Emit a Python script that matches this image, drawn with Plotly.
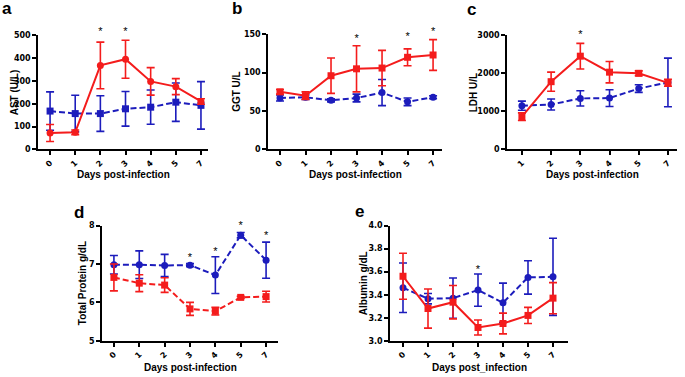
import plotly.graph_objects as go

# ---------------- data ----------------
days_7 = ["0", "1", "2", "3", "4", "5", "7"]
days_c = ["1", "2", "3", "4", "5", "7"]

# a: AST (U/L)
ast_inf = [72, 75, 368, 395, 298, 275, 210]
ast_inf_err = [37, 10, 102, 83, 60, 35, 12]
ast_ctl = [168, 157, 157, 178, 185, 207, 193]
ast_ctl_err = [84, 80, 78, 76, 75, 84, 104]
ast_star_days = ["2", "3"]
ast_star_y = [515, 515]

# b: GGT U/L
ggt_inf = [75, 70, 96, 105, 106, 120, 123]
ggt_inf_err = [3, 5, 23, 30, 23, 11, 20]
ggt_ctl = [67, 68, 64, 67, 74, 62, 68]
ggt_ctl_err = [4, 3, 2, 5, 17, 5, 2]
ggt_star_days = ["3", "5", "7"]
ggt_star_y = [144, 146, 152]

# c: LDH U/L
ldh_inf = [860, 1780, 2450, 2030, 2000, 1750]
ldh_inf_err = [100, 250, 335, 280, 65, 90]
ldh_ctl = [1150, 1180, 1340, 1350, 1600, 1760]
ldh_ctl_err = [120, 145, 200, 220, 100, 640]
ldh_star_days = ["3"]
ldh_star_y = [3010]

# d: Total Protein g/dL
tp_ctl = [6.98, 6.98, 6.96, 6.97, 6.71, 7.75, 7.10]
tp_ctl_err = [0.24, 0.36, 0.29, 0.04, 0.48, 0.07, 0.47]
tp_inf = [6.65, 6.50, 6.45, 5.83, 5.77, 6.13, 6.15]
tp_inf_err = [0.35, 0.22, 0.19, 0.17, 0.10, 0.03, 0.14]
tp_star_days = ["3", "4", "5", "7"]
tp_star_y = [7.15, 7.30, 7.99, 7.72]

# e: Albumin g/dL
alb_ctl = [3.46, 3.365, 3.37, 3.44, 3.33, 3.55, 3.555]
alb_ctl_err = [0.215, 0.045, 0.175, 0.14, 0.17, 0.145, 0.335]
alb_inf = [3.56, 3.28, 3.335, 3.115, 3.15, 3.22, 3.37]
alb_inf_err = [0.2, 0.17, 0.145, 0.065, 0.09, 0.07, 0.135]
alb_star_days = ["3"]
alb_star_y = [3.61]

# ---------------- style ----------------
RED = "#f41c1c"
BLUE = "#1c1cbc"
W, H = 685, 377
FONT = "Liberation Sans, Arial, sans-serif"
TICKFONT = "DejaVu Sans, Verdana, sans-serif"
EXT = 26  # extra pixels above each plot for significance marks


def px_x(p):
    return p / W


def px_y(p):
    return 1 - p / H


panels = [
    dict(label="a", days=days_7, inf=ast_inf, inf_err=ast_inf_err, ctl=ast_ctl, ctl_err=ast_ctl_err,
         inf_sym="circle", ctl_sym="square", inf_dash="solid", ctl_dash="6px,3px",
         stars=(ast_star_days, ast_star_y), ytitle="AST (U/L)", xtitle="Days post-infection",
         xpx=(38, 208), ypx=(32, 149), xr=[-0.48, 6.28], yr=[0, 500], dtick=100, fmt="",
         lab=(0, 5), ytx=14, xty=175),
    dict(label="b", days=days_7, inf=ggt_inf, inf_err=ggt_inf_err, ctl=ggt_ctl, ctl_err=ggt_ctl_err,
         inf_sym="square", ctl_sym="circle", inf_dash="solid", ctl_dash="6px,3px",
         stars=(ggt_star_days, ggt_star_y), ytitle="GGT U/L", xtitle="Days post-infection",
         xpx=(268, 442), ypx=(31, 149), xr=[-0.47, 6.35], yr=[0, 150], dtick=50, fmt="",
         lab=(230, 5), ytx=237, xty=175),
    dict(label="c", days=days_c, inf=ldh_inf, inf_err=ldh_inf_err, ctl=ldh_ctl, ctl_err=ldh_ctl_err,
         inf_sym="square", ctl_sym="circle", inf_dash="solid", ctl_dash="6px,3px",
         stars=(ldh_star_days, ldh_star_y), ytitle="LDH U/L", xtitle="Days post-infection",
         xpx=(507, 677), ypx=(32, 149), xr=[-0.51, 5.31], yr=[0, 3000], dtick=1000, fmt="",
         lab=(465, 6), ytx=473, xty=175),
    dict(label="d", days=days_7, inf=tp_inf, inf_err=tp_inf_err, ctl=tp_ctl, ctl_err=tp_ctl_err,
         inf_sym="square", ctl_sym="circle", inf_dash="6px,3px", ctl_dash="6px,3px",
         stars=(tp_star_days, tp_star_y), ytitle="Total Protein g/dL", xtitle="Days post-infection",
         xpx=(102, 278), ypx=(227, 345), xr=[-0.47, 6.47], yr=[5, 8], dtick=1, fmt="",
         lab=(72, 214), ytx=82, xty=372),
    dict(label="e", days=days_7, inf=alb_inf, inf_err=alb_inf_err, ctl=alb_ctl, ctl_err=alb_ctl_err,
         inf_sym="square", ctl_sym="circle", inf_dash="solid", ctl_dash="6px,3px",
         stars=(alb_star_days, alb_star_y), ytitle="Albumin g/dL", xtitle="Days post_infection",
         xpx=(390, 568), ypx=(227, 345), xr=[-0.52, 6.6], yr=[3.0, 4.0], dtick=0.2, fmt=".1f",
         lab=(353, 213), ytx=363, xty=372),
]

fig = go.Figure()
annotations = []
layout = {}
npan = len(panels)

for i, p in enumerate(panels):
    n = "" if i == 0 else str(i + 1)
    xa, ya = "x" + n, "y" + n
    ys = "y" + str(npan + i + 1)  # hidden axis for significance marks
    x0, x1 = p["xpx"]
    yt, yb = p["ypx"]
    for vals, errs, color, sym, dash in [
        (p["ctl"], p["ctl_err"], BLUE, p["ctl_sym"], p["ctl_dash"]),
        (p["inf"], p["inf_err"], RED, p["inf_sym"], p["inf_dash"]),
    ]:
        fig.add_trace(go.Scatter(
            x=p["days"], y=vals, xaxis=xa, yaxis=ya, mode="lines+markers",
            line=dict(color=color, width=2, dash=dash),
            marker=dict(symbol=sym, size=7, color=color),
            error_y=dict(type="data", array=errs, visible=True, color=color, thickness=1.6, width=4),
            showlegend=False, cliponaxis=False,
        ))
    sd, sy = p["stars"]
    fig.add_trace(go.Scatter(
        x=sd, y=sy, xaxis=xa, yaxis=ys, mode="text", text=["*"] * len(sd),
        textposition="middle center", textfont=dict(family=FONT, size=11, color="#000000"),
        showlegend=False, cliponaxis=False, hoverinfo="skip",
    ))
    axis_common = dict(showline=True, linecolor="black", linewidth=1.6, ticks="outside",
                       ticklen=4, tickwidth=1.5, tickcolor="black", showgrid=False, zeroline=False,
                       tickfont=dict(family=TICKFONT, size=8, color="black", weight="bold"))
    layout["xaxis" + n] = dict(domain=[px_x(x0), px_x(x1)], anchor=ya, type="category",
                               categoryorder="array", categoryarray=p["days"], range=p["xr"],
                               tickangle=-45, fixedrange=True, **axis_common)
    layout["yaxis" + n] = dict(domain=[px_y(yb), px_y(yt)], anchor=xa, range=p["yr"],
                               dtick=p["dtick"], tick0=p["yr"][0], tickformat=p["fmt"],
                               fixedrange=True, **axis_common)
    span = p["yr"][1] - p["yr"][0]
    top_ext = p["yr"][0] + span * (yb - yt + EXT) / (yb - yt)
    layout["yaxis" + str(npan + i + 1)] = dict(domain=[px_y(yb), px_y(yt - EXT)], anchor=xa,
                                               range=[p["yr"][0], top_ext], visible=False,
                                               fixedrange=True, showgrid=False, zeroline=False)
    # panel label
    annotations.append(dict(x=px_x(p["lab"][0]), y=px_y(p["lab"][1]), xref="paper", yref="paper",
                            text=p["label"], showarrow=False, xanchor="left", yanchor="middle",
                            font=dict(family=FONT, size=17, color="black", weight="bold")))
    # y title
    annotations.append(dict(x=px_x(p["ytx"]), y=px_y((yt + yb) / 2), xref="paper", yref="paper",
                            text=p["ytitle"], showarrow=False, textangle=-90,
                            xanchor="center", yanchor="middle",
                            font=dict(family=FONT, size=10, color="black", weight="bold")))
    # x title
    annotations.append(dict(x=px_x((x0 + x1) / 2), y=px_y(p["xty"]), xref="paper", yref="paper",
                            text=p["xtitle"], showarrow=False, xanchor="center", yanchor="middle",
                            font=dict(family=FONT, size=10, color="black", weight="bold")))

fig.update_layout(
    width=W, height=H, margin=dict(l=0, r=0, t=0, b=0),
    paper_bgcolor="white", plot_bgcolor="rgba(0,0,0,0)",
    annotations=annotations, **layout,
)

fig.write_html("out.html", config={"displayModeBar": False},
               post_script="document.body.style.margin='0';document.body.style.padding='0';")
